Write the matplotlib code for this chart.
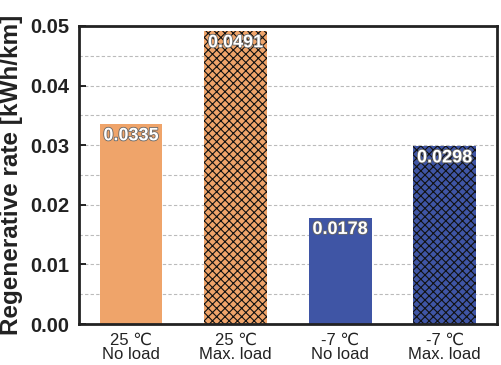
import matplotlib
matplotlib.use("Agg")
import matplotlib.pyplot as plt
import matplotlib.patheffects as pe
from matplotlib.ticker import MultipleLocator

categories = ["25 ℃\nNo load", "25 ℃\nMax. load", "-7 ℃\nNo load", "-7 ℃\nMax. load"]
values = [0.0335, 0.0491, 0.0178, 0.0298]
value_labels = ["0.0335", "0.0491", "0.0178", "0.0298"]
colors = ["#EFA46A", "#EFA46A", "#3F55A5", "#3F55A5"]
hatches = [None, "xxxx", None, "xxxx"]
yticks = [0, 0.01, 0.02, 0.03, 0.04, 0.05]
ytick_labels = ["0.00", "0.01", "0.02", "0.03", "0.04", "0.05"]

plt.rcParams['font.family'] = ['Liberation Sans', 'DejaVu Sans']
plt.rcParams['hatch.linewidth'] = 0.8
plt.rcParams['hatch.color'] = '#111111'

fig = plt.figure(figsize=(5.02, 3.65), dpi=100)
ax = fig.add_axes([0.157, 0.112, 0.833, 0.817])

x = list(range(len(categories)))
for xi, v, c, h in zip(x, values, colors, hatches):
    ax.bar(xi, v, width=0.6, color=c, hatch=h, edgecolor='#111111' if h else c,
           linewidth=0, zorder=2)

for xi, v, lab in zip(x, values, value_labels):
    ax.text(xi, v - 0.0005, lab, ha='center', va='top', color='white',
            fontsize=13, fontweight='bold', zorder=3,
            path_effects=[pe.withStroke(linewidth=1.2, foreground='#666666')])

ax.set_xlim(-0.5, 3.5)
ax.set_ylim(0, 0.05)
ax.yaxis.set_minor_locator(MultipleLocator(0.005))
ax.set_yticks(yticks)
ax.set_yticklabels(ytick_labels, fontsize=14.5, fontweight='bold', color='#222222')
ax.set_xticks(x)
ax.set_xticklabels(categories, fontsize=12, color='#222222', linespacing=0.95)
ax.tick_params(axis='y', which='major', direction='in', length=5, width=1.2, pad=7)
ax.tick_params(axis='y', which='minor', length=0)
ax.tick_params(axis='x', length=0, pad=6)

ax.grid(axis='y', which='both', linestyle=(0, (3, 2)), color='#BBBBBB', linewidth=0.8, zorder=0)
ax.set_axisbelow(True)

for s in ax.spines.values():
    s.set_linewidth(2)
    s.set_color('#222222')

ax.set_ylabel("Regenerative rate [kWh/km]", fontsize=17.5, fontweight='bold',
              color='#222222', labelpad=5)

fig.savefig("out.png", dpi=100)
